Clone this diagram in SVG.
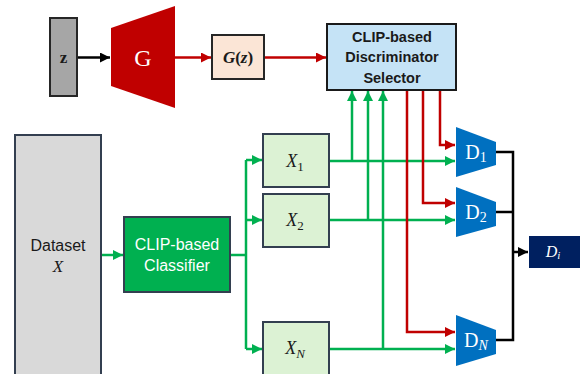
<svg xmlns="http://www.w3.org/2000/svg" width="580" height="374" viewBox="0 0 580 374">
<defs>
<marker id="ag" viewBox="0 0 10 10" refX="10" refY="5" markerWidth="4" markerHeight="4" orient="auto" markerUnits="strokeWidth"><path d="M0,0L10,5L0,10z" fill="#00b050"/></marker>
<marker id="ar" viewBox="0 0 10 10" refX="10" refY="5" markerWidth="4" markerHeight="4" orient="auto" markerUnits="strokeWidth"><path d="M0,0L10,5L0,10z" fill="#c00000"/></marker>
<marker id="ak" viewBox="0 0 10 10" refX="10" refY="5" markerWidth="4" markerHeight="4" orient="auto" markerUnits="strokeWidth"><path d="M0,0L10,5L0,10z" fill="#000"/></marker>
</defs>
<style>
.g{fill:none;stroke:#00b050;stroke-width:2.5}
.r{fill:none;stroke:#c00000;stroke-width:2.5}
.k{fill:none;stroke:#000;stroke-width:2.5}
.box{stroke:#333f50;stroke-width:2}
.sans{font-family:"Liberation Sans",Arial,sans-serif}
.math{font-family:"Liberation Serif","DejaVu Serif",serif;font-style:italic}
.ser{font-family:"Liberation Serif","DejaVu Serif",serif}
</style>
<g id="connectors">
<path class="k" d="M77,57.5H110" marker-end="url(#ak)"/>
<path class="r" d="M175,57.5H211" marker-end="url(#ar)"/>
<path class="r" d="M264,57.5H326" marker-end="url(#ar)"/>
<path class="g" d="M101,255H123" marker-end="url(#ag)"/>
<path class="g" d="M230,255H246"/>
<path class="g" d="M246,160V349"/>
<path class="g" d="M246,160H262" marker-end="url(#ag)"/>
<path class="g" d="M246,220H262" marker-end="url(#ag)"/>
<path class="g" d="M246,349H262" marker-end="url(#ag)"/>
<path class="g" d="M329,161H455" marker-end="url(#ag)"/>
<path class="g" d="M329,220H455" marker-end="url(#ag)"/>
<path class="g" d="M329,349H455" marker-end="url(#ag)"/>
<path class="g" d="M352,161V91" marker-end="url(#ag)"/>
<path class="g" d="M368,220V91" marker-end="url(#ag)"/>
<path class="g" d="M383,349V91" marker-end="url(#ag)"/>
<path class="r" d="M440,90V145H455" marker-end="url(#ar)"/>
<path class="r" d="M423,90V203H455" marker-end="url(#ar)"/>
<path class="r" d="M407,90V332H455" marker-end="url(#ar)"/>
<path class="k" d="M496,152H513V340H496"/>
<path class="k" d="M496,212H513"/>
<path class="k" d="M513,252H528" marker-end="url(#ak)"/>
</g>
<g id="z">
<rect x="50" y="18" width="27" height="78" fill="#a6a6a6" stroke="#262626" stroke-width="2"/>
<text x="63.5" y="63" text-anchor="middle" class="ser" font-weight="bold" font-size="17" fill="#1a1a1a">z</text>
</g>
<g id="G">
<path d="M111,28L175,6V108L111,86z" fill="#c00000"/>
<text x="143" y="66" text-anchor="middle" class="ser" fill="#fff" font-size="24">G</text>
</g>
<g id="Gz">
<rect x="212" y="35" width="52" height="44" fill="#fbe5d6" stroke="#262626" stroke-width="2"/>
<text x="238" y="63" text-anchor="middle" class="ser" font-weight="bold" font-size="17" fill="#1a1a1a"><tspan font-style="italic">G</tspan>(<tspan font-style="italic">z</tspan>)</text>
</g>
<g id="selector">
<rect x="327" y="24" width="129" height="66" fill="#c5e3f6" stroke="#1a1a1a" stroke-width="2"/>
<text class="sans" font-weight="bold" font-size="14.5" text-anchor="middle" fill="#1a1a1a"><tspan x="392" y="42">CLIP-based</tspan><tspan x="392" y="62">Discriminator</tspan><tspan x="392" y="83">Selector</tspan></text>
</g>
<g id="dataset">
<rect x="15" y="135" width="86" height="245" fill="#d9d9d9" class="box"/>
<text x="58" y="251" text-anchor="middle" class="sans" font-size="16" fill="#1a1a1a">Dataset</text>
<text x="58" y="272" text-anchor="middle" class="math" font-size="17" fill="#1a1a1a">X</text>
</g>
<g id="classifier">
<rect x="124" y="217" width="106" height="75" fill="#00b050" class="box"/>
<text class="sans" font-size="16" text-anchor="middle" fill="#fff"><tspan x="177" y="250">CLIP-based</tspan><tspan x="177" y="271">Classifier</tspan></text>
</g>
<g id="X1">
<rect x="263" y="134" width="66" height="53" fill="#dcf2d4" class="box"/>
<text x="295" y="167" text-anchor="middle" class="math" font-size="18" fill="#1a1a1a">X<tspan font-style="normal" font-size="13" dy="4">1</tspan></text>
</g>
<g id="X2">
<rect x="263" y="194" width="66" height="53" fill="#dcf2d4" class="box"/>
<text x="295" y="226" text-anchor="middle" class="math" font-size="18" fill="#1a1a1a">X<tspan font-style="normal" font-size="13" dy="4">2</tspan></text>
</g>
<g id="XN">
<rect x="263" y="322" width="66" height="58" fill="#dcf2d4" class="box"/>
<text x="295" y="354" text-anchor="middle" class="math" font-size="18" fill="#1a1a1a">X<tspan font-size="13" dy="4">N</tspan></text>
</g>
<g id="D1">
<path d="M456,127L496,142V165L456,177z" fill="#0070c0"/>
<text x="476" y="159" text-anchor="middle" class="ser" font-size="20" fill="#fff">D<tspan font-size="14" dy="3">1</tspan></text>
</g>
<g id="D2">
<path d="M456,187L496,202V226L456,237z" fill="#0070c0"/>
<text x="476" y="219" text-anchor="middle" class="ser" font-size="20" fill="#fff">D<tspan font-size="14" dy="3">2</tspan></text>
</g>
<g id="DN">
<path d="M456,315L496,330V354L456,366z" fill="#0070c0"/>
<text x="476" y="347" text-anchor="middle" class="ser" font-size="20" fill="#fff">D<tspan font-size="14" dy="3" font-style="italic">N</tspan></text>
</g>
<g id="Di">
<rect x="529" y="236" width="52" height="32" fill="#002060"/>
<text x="553" y="257" text-anchor="middle" class="math" font-size="16" fill="#fff">D<tspan font-size="11" dy="2">i</tspan></text>
</g>
</svg>
